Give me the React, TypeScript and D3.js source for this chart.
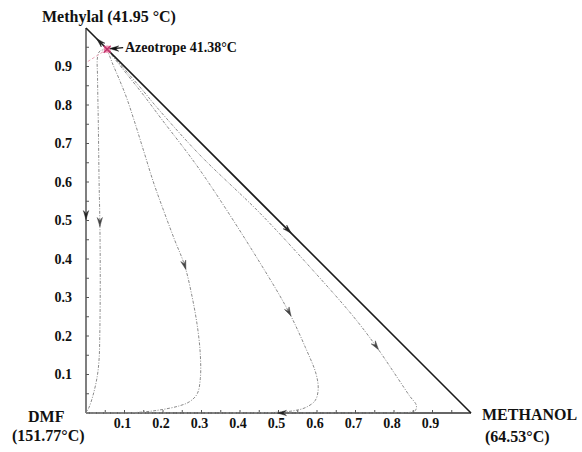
import React from "react";
import * as d3 from "d3";

type P = [number, number];

// x = methanol mole fraction, y = methylal mole fraction
const azeotrope: P = [0.055, 0.945];

const curveA: P[] = [
  [0.055, 0.945], [0.036, 0.94], [0.03, 0.925], [0.03, 0.87], [0.032, 0.75],
  [0.034, 0.6], [0.036, 0.496], [0.037, 0.35], [0.036, 0.215], [0.034, 0.14],
  [0.029, 0.094], [0.018, 0.045], [0.008, 0.015], [0, 0],
];
const curveB: P[] = [
  [0.055, 0.945], [0.068, 0.91], [0.085, 0.87], [0.105, 0.82], [0.125, 0.76],
  [0.15, 0.68], [0.175, 0.6], [0.2, 0.53], [0.23, 0.45], [0.256, 0.384],
  [0.276, 0.3], [0.29, 0.22], [0.297, 0.15], [0.297, 0.09], [0.289, 0.05],
  [0.27, 0.03], [0.244, 0.019], [0.192, 0.008], [0.14, 0.002], [0.08, 0.0003], [0, 0],
];
const curveC: P[] = [
  [0.055, 0.945], [0.1, 0.888], [0.15, 0.825], [0.195, 0.765],
  [0.296, 0.631], [0.452, 0.39], [0.527, 0.262], [0.57, 0.17], [0.598, 0.1],
  [0.603, 0.06], [0.595, 0.032], [0.57, 0.014], [0.54, 0.006], [0.5, 0.002],
  [0.42, 0.0005], [0.25, 0.0001], [0, 0],
];
const curveD: P[] = [
  [0.055, 0.945], [0.1, 0.893], [0.15, 0.835], [0.184, 0.794], [0.296, 0.67],
  [0.452, 0.519], [0.59, 0.37], [0.695, 0.25], [0.753, 0.174], [0.81, 0.09],
  [0.84, 0.045], [0.858, 0.02], [0.855, 0.006], [0.84, 0.0015], [0.8, 0.0003],
  [0.6, 0.0001], [0.3, 0], [0, 0],
];
const residueCurves: P[][] = [curveA, curveB, curveC, curveD];

// arrows on residue curves: curve index, point index
const curveArrows = [
  { curve: 0, idx: 6 },
  { curve: 1, idx: 9 },
  { curve: 2, idx: 6 },
  { curve: 3, idx: 8 },
];

// arrows on the binary edges: position and direction target
const edgeArrows: { at: P; toward: P }[] = [
  { at: [0.036, 0.964], toward: [0, 1] },
  { at: [0.525, 0.475], toward: [1, 0] },
  { at: [0, 0.514], toward: [0, 0] },
  { at: [0.509, 0], toward: [0, 0] },
];

const boundary: P[] = [azeotrope, [0, 0.91]];
const tickLabels = d3.range(1, 10).map((i) => i / 10);
const minorTicks = d3.range(1, 20).map((i) => i / 20);

const W = 582;
const H = 452;
const FONT = "'Liberation Serif', 'Times New Roman', serif";

export default function App() {
  const x = d3.scaleLinear().domain([0, 1]).range([86, 471]);
  const y = d3.scaleLinear().domain([0, 1]).range([413, 28]);

  const line = d3
    .line<P>()
    .x((d) => x(d[0]))
    .y((d) => y(d[1]))
    .curve(d3.curveCatmullRom.alpha(0.5));

  const arrowHead = (px: number, py: number, ang: number, fill: string, key: string) => {
    const L = 4.5;
    const Wd = 2.6;
    const c = Math.cos(ang);
    const s = Math.sin(ang);
    const tip = [px + c * L, py + s * L];
    const b1 = [px - c * L - s * Wd, py - s * L + c * Wd];
    const b2 = [px - c * L + s * Wd, py - s * L - c * Wd];
    const mid = [px - c * L * 0.3, py - s * L * 0.3];
    return (
      <polygon
        key={key}
        points={`${tip[0]},${tip[1]} ${b1[0]},${b1[1]} ${mid[0]},${mid[1]} ${b2[0]},${b2[1]}`}
        fill={fill}
        stroke={fill}
        strokeWidth={0.5}
      />
    );
  };

  const ax = x(azeotrope[0]);
  const ay = y(azeotrope[1]);

  return (
    <svg
      width={W}
      height={H}
      style={{ position: "absolute", left: 0, top: 0, background: "#fff" }}
      fontFamily={FONT}
    >
      {/* axes */}
      <line x1={x(0)} y1={y(0)} x2={x(0)} y2={y(1)} stroke="#555" strokeWidth={1.5} />
      <line x1={x(0)} y1={y(0)} x2={x(1)} y2={y(0)} stroke="#333" strokeWidth={1.5} />
      {minorTicks.map((t) => (
        <g key={"t" + t}>
          <line x1={x(0)} x2={x(0) + 3} y1={y(t)} y2={y(t)} stroke="#555" strokeWidth={1} />
          <line x1={x(t)} x2={x(t)} y1={y(0)} y2={y(0) - 3} stroke="#555" strokeWidth={1} />
        </g>
      ))}
      {tickLabels.map((t) => (
        <g key={"l" + t} fontWeight="bold" fontSize={14} fill="#111">
          <text x={72} y={y(t)} textAnchor="end" dominantBaseline="central">
            {t.toFixed(1)}
          </text>
          <text x={x(t) - 2} y={428} textAnchor="middle">
            {t.toFixed(1)}
          </text>
        </g>
      ))}

      {/* residue curves */}
      {residueCurves.map((c, i) => (
        <path
          key={"c" + i}
          d={line(c) || ""}
          fill="none"
          stroke="#8a8a8a"
          strokeWidth={1}
          strokeDasharray="3,1.5,1,1.5"
        />
      ))}
      {/* distillation boundary */}
      <path d={line(boundary) || ""} fill="none" stroke="#eaa6b8" strokeWidth={1} strokeDasharray="3,2" />

      {/* hypotenuse */}
      <line x1={x(0)} y1={y(1)} x2={x(1)} y2={y(0)} stroke="#1a1a1a" strokeWidth={1.6} />

      {curveArrows.map((a, i) => {
        const pts = residueCurves[a.curve];
        const p = pts[a.idx];
        const p0 = pts[a.idx - 1];
        const p1 = pts[a.idx + 1];
        const ang = Math.atan2(y(p1[1]) - y(p0[1]), x(p1[0]) - x(p0[0]));
        return arrowHead(x(p[0]), y(p[1]), ang, "#444", "ca" + i);
      })}
      {edgeArrows.map((a, i) => {
        const ang = Math.atan2(y(a.toward[1]) - y(a.at[1]), x(a.toward[0]) - x(a.at[0]));
        return arrowHead(x(a.at[0]), y(a.at[1]), ang, "#222", "ea" + i);
      })}

      {/* azeotrope marker */}
      <circle cx={ax} cy={ay} r={3.6} fill="#ec7fa3" opacity={0.85} />
      <g stroke="#c0306a" strokeWidth={1.3}>
        <line x1={ax - 3.5} y1={ay - 3.5} x2={ax + 3.5} y2={ay + 3.5} />
        <line x1={ax - 3.5} y1={ay + 3.5} x2={ax + 3.5} y2={ay - 3.5} />
      </g>
      {/* annotation */}
      <line x1={ax + 16} y1={ay - 1.5} x2={ax + 6} y2={ay - 0.5} stroke="#111" strokeWidth={1.2} />
      {arrowHead(ax + 7, ay - 0.6, Math.PI, "#111", "ann")}
      <text x={125} y={52} fontWeight="bold" fontSize={14} fill="#111">
        Azeotrope 41.38°C
      </text>

      {/* vertex labels */}
      <g fontWeight="bold" fontSize={16} fill="#111">
        <text x={42} y={22}>Methylal (41.95 °C)</text>
        <text x={28} y={422}>DMF</text>
        <text x={12} y={441}>(151.77°C)</text>
        <text x={482} y={420}>METHANOL</text>
        <text x={485} y={442}>(64.53°C)</text>
      </g>
    </svg>
  );
}
